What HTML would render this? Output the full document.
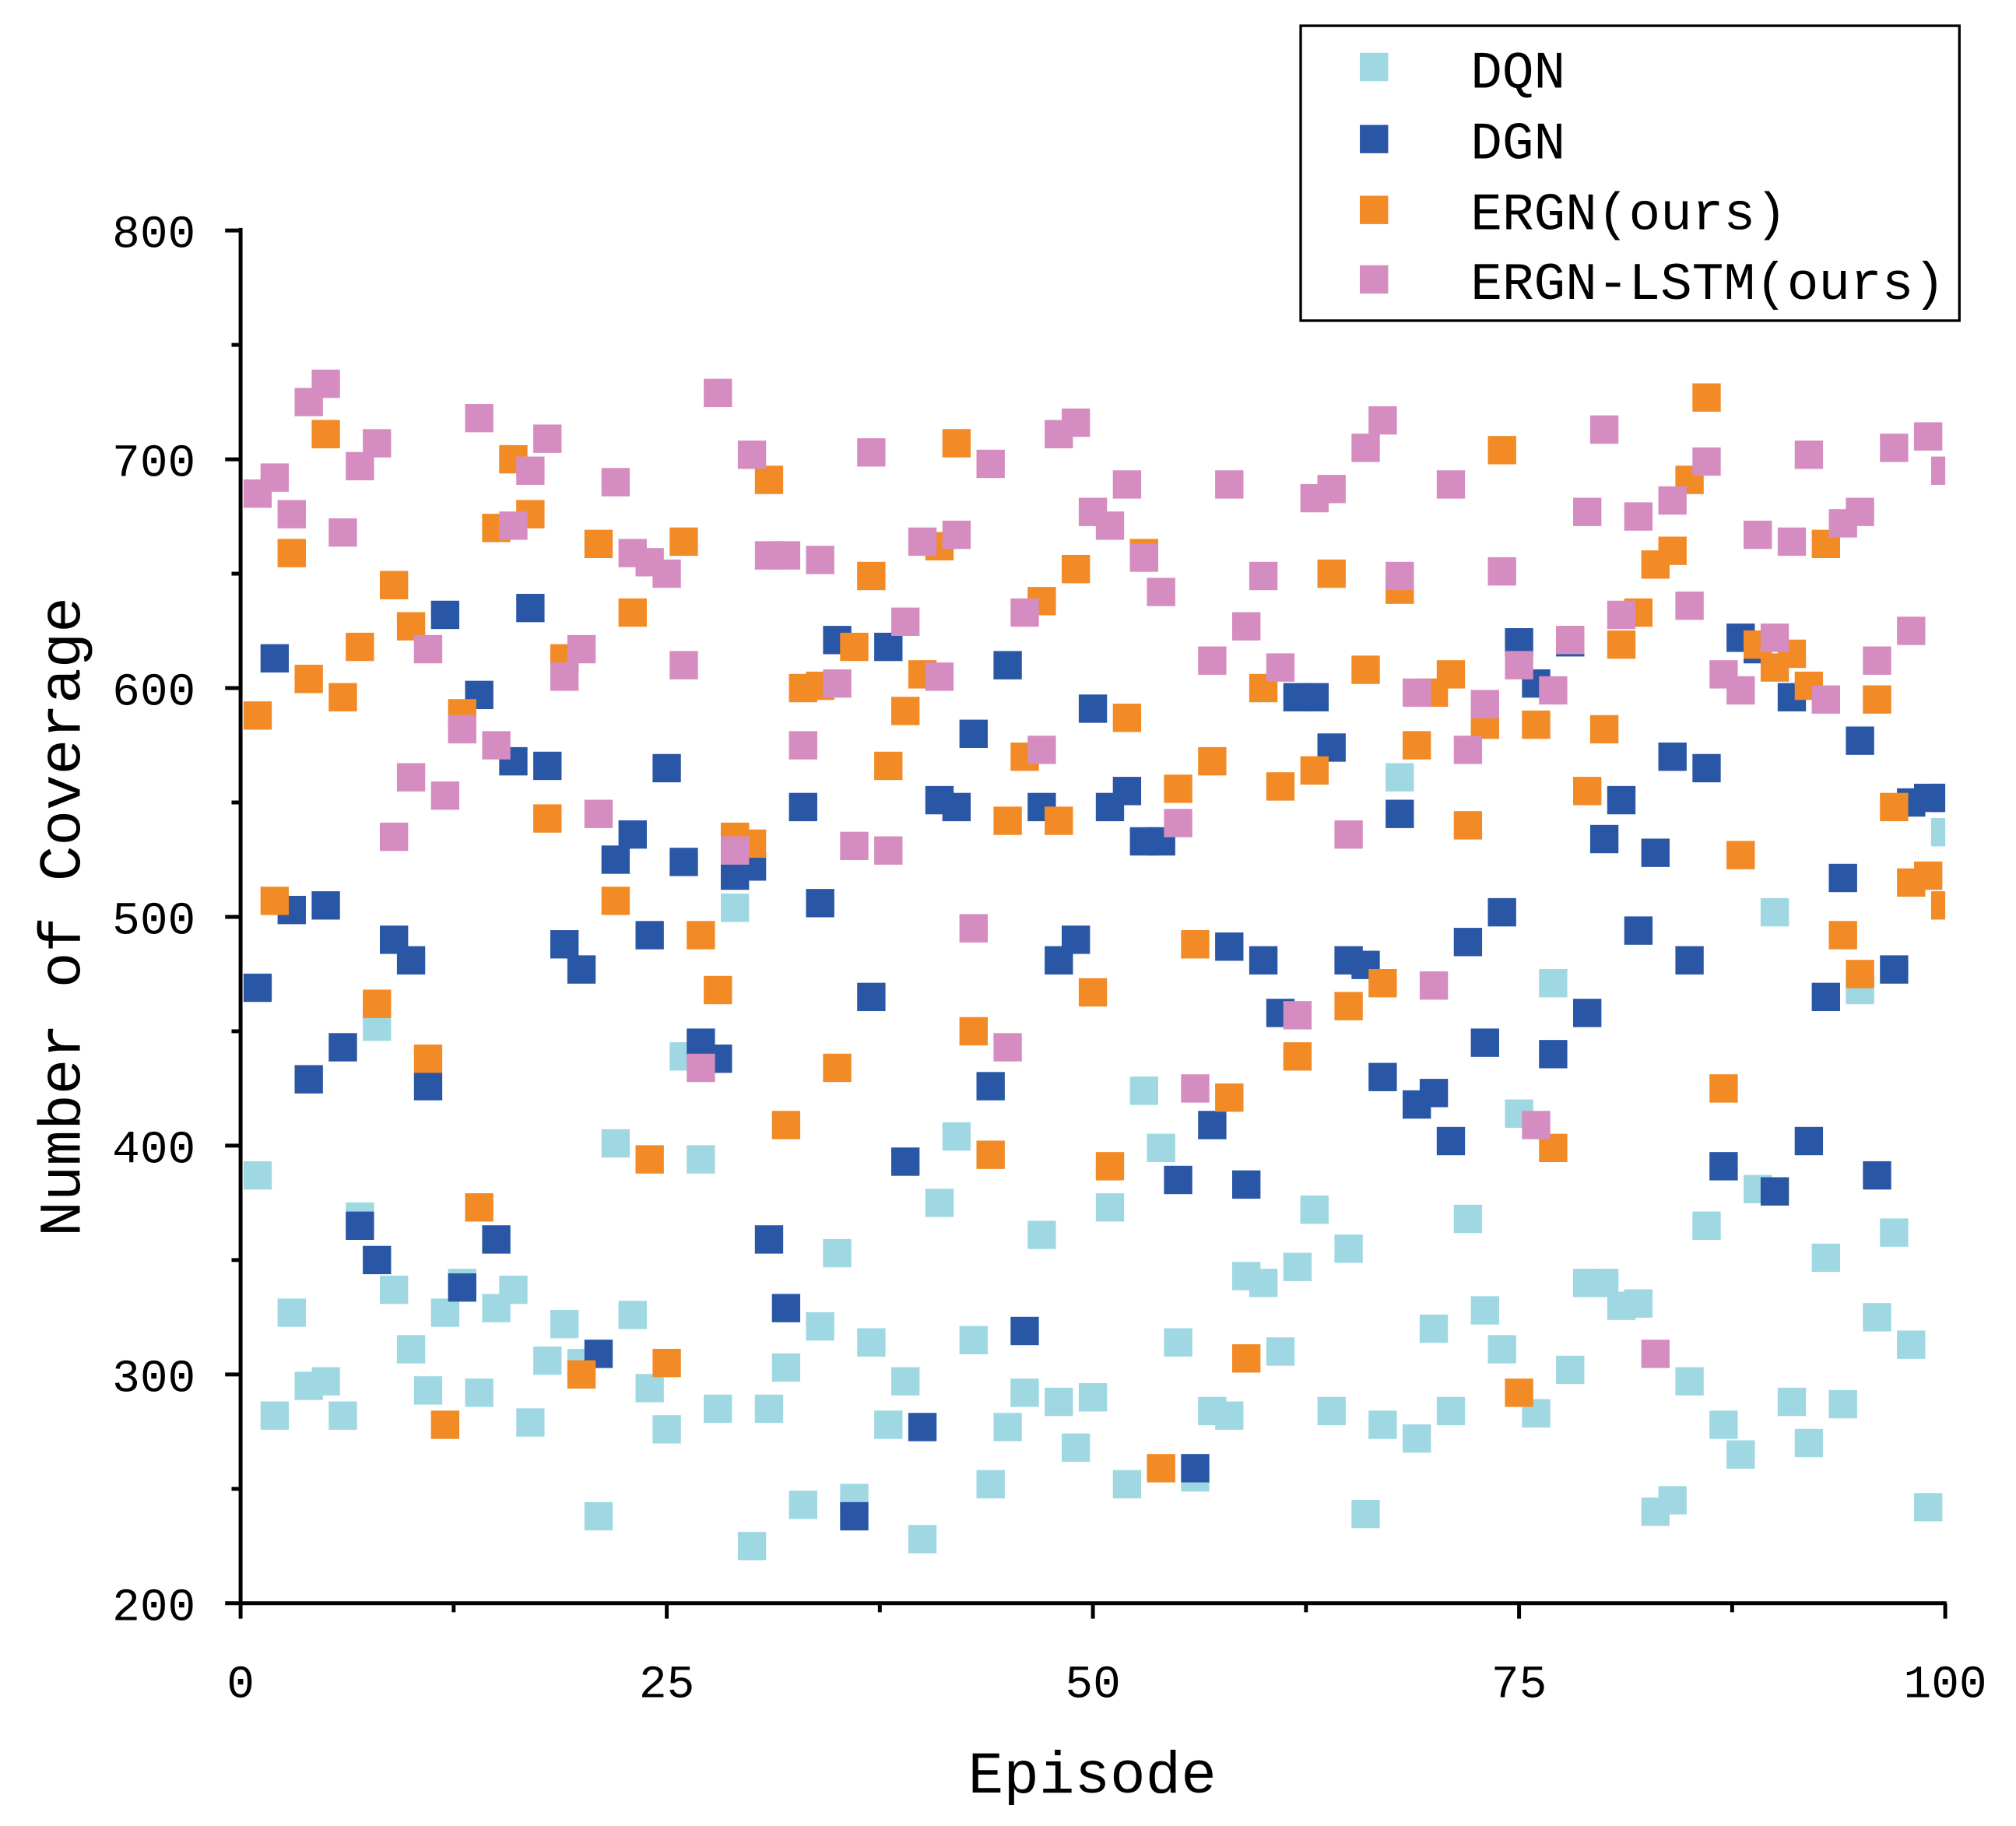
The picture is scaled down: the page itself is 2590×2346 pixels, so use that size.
<!DOCTYPE html>
<html><head><meta charset="utf-8"><style>
html,body{margin:0;padding:0;background:#fff;}
svg{display:block;}
text{font-family:"Liberation Mono",monospace;fill:#000;}
</style></head><body>
<svg id="chart" width="2590" height="2346" viewBox="0 0 1567 1418" preserveAspectRatio="none" xmlns="http://www.w3.org/2000/svg">
<defs><clipPath id="plotclip"><rect x="170" y="150" width="1342" height="1110"/></clipPath></defs>
<g id="marks" clip-path="url(#plotclip)"></g>
<g id="axes"></g>
<text x="0" y="0" font-size="46" text-anchor="middle" transform="translate(62,712) rotate(-90)">Number of Coverage</text>
<text x="849" y="1392" font-size="46" text-anchor="middle">Episode</text>
<g>
<rect x="1011" y="20" width="512" height="229" fill="#fff" stroke="#000" stroke-width="2"/>
<rect x="1057" y="41" width="22" height="22" fill="#9fd8e3"/>
<text x="1143" y="68" font-size="41">DQN</text>
<rect x="1057" y="97" width="22" height="22" fill="#2a56a6"/>
<text x="1143" y="123" font-size="41">DGN</text>
<rect x="1057" y="152" width="22" height="22" fill="#f28a26"/>
<text x="1143" y="178" font-size="41">ERGN(ours)</text>
<rect x="1057" y="206" width="22" height="22" fill="#d58dc1"/>
<text x="1143" y="232" font-size="41">ERGN-LSTM(ours)</text>
</g>
</svg>
<script>
const dqn=[387,282,327,295,297,282,369,452,337,311,293,327,340,292,329,337,279,306,322,305,238,401,326,294,276,439,394,285,504,225,285,303,243,321,353,246,314,278,297,228,375,404,315,252,277,292,361,288,268,290,373,252,424,399,314,255,284,282,343,340,310,347,372,284,355,239,278,561,272,320,284,368,328,311,414,283,471,302,340,340,330,331,240,245,297,365,278,265,381,502,288,270,351,287,468,325,362,313,242,537];
const dgn=[469,613,503,429,505,443,365,350,490,481,426,632,338,597,359,568,635,566,488,477,309,525,536,492,565,524,445,438,518,522,359,329,548,506,621,238,465,618,393,277,551,548,580,426,610,319,548,481,490,591,548,555,533,533,385,259,409,487,383,481,458,596,596,574,481,479,430,545,418,423,402,489,445,502,620,602,440,620,458,534,551,494,528,570,481,565,391,622,617,380,596,402,465,517,577,387,477,550,552,552];
const ergn=[588,507,659,604,711,596,618,462,645,627,438,278,589,373,670,700,676,543,613,300,663,507,633,394,305,664,492,468,535,532,691,409,600,601,434,618,649,566,590,606,662,707,450,396,542,570,638,542,652,467,391,587,659,259,556,488,568,421,307,600,557,439,564,650,461,608,471,643,575,598,606,540,584,704,292,584,399,621,555,582,619,633,654,660,691,727,425,527,619,609,615,601,663,492,475,595,548,515,518,505];
const lstm=[685,692,676,725,733,668,697,707,535,561,617,553,582,718,575,671,695,709,605,617,545,690,659,655,650,610,434,729,529,702,658,658,575,656,602,531,703,529,629,664,605,667,495,698,443,633,573,711,716,677,671,689,657,642,541,425,612,689,627,649,609,457,683,687,536,705,717,649,598,470,689,573,593,651,610,409,599,621,677,713,632,675,309,682,636,699,606,599,667,622,664,702,595,672,677,612,705,625,710,695];
const xTicks=["0","25","50","75","100"];
const yTicks=["200","300","400","500","600","700","800"];

const NS="http://www.w3.org/2000/svg";
const X0=187,X1=1512,Y0=1245,Y1=179;
function xs(v){return X0+(v/100)*(X1-X0);}
function ys(v){return Y0-(v-200)/600*(Y0-Y1);}
function mk(tag,attrs,parent){const e=document.createElementNS(NS,tag);for(const k in attrs)e.setAttribute(k,attrs[k]);parent.appendChild(e);return e;}
const marks=document.getElementById('marks');
const axes=document.getElementById('axes');
const series=[[dqn,'#9fd8e3','dqn'],[dgn,'#2a56a6','dgn'],[ergn,'#f28a26','ergn'],[lstm,'#d58dc1','ergn-lstm']];
const S=22;
series.forEach(([arr,col,nm])=>{
  arr.forEach((v,i)=>{
    const r=mk('rect',{x:xs(i+1)-S/2,y:ys(v)-S/2,width:S,height:S,fill:col},marks);
    
    
  });
});
let l=mk('line',{x1:X0,y1:Y1-2,x2:X0,y2:Y0+1.5,stroke:'#000','stroke-width':3},axes);


l=mk('line',{x1:X0-1.5,y1:Y0,x2:X1+1,y2:Y0,stroke:'#000','stroke-width':3},axes);


for(let v=200;v<=800;v+=50){
  const major=v%100===0;
  const t=mk('line',{x1:X0,y1:ys(v),x2:X0-(major?12:7),y2:ys(v),stroke:'#000','stroke-width':3},axes);
  
  
}
yTicks.forEach(s=>{
  const t=mk('text',{x:152,y:ys(+s)+13,'font-size':36,'text-anchor':'end'},axes);
  t.textContent=s;
  
  
});
for(let v=0;v<=100;v+=12.5){
  const major=v%25===0;
  const t=mk('line',{x1:xs(v),y1:Y0,x2:xs(v),y2:Y0+(major?12:7),stroke:'#000','stroke-width':3},axes);
  
  
}
xTicks.forEach(s=>{
  const t=mk('text',{x:xs(+s),y:1318,'font-size':36,'text-anchor':'middle'},axes);
  t.textContent=s;
  
  
});
</script>
</body></html>
